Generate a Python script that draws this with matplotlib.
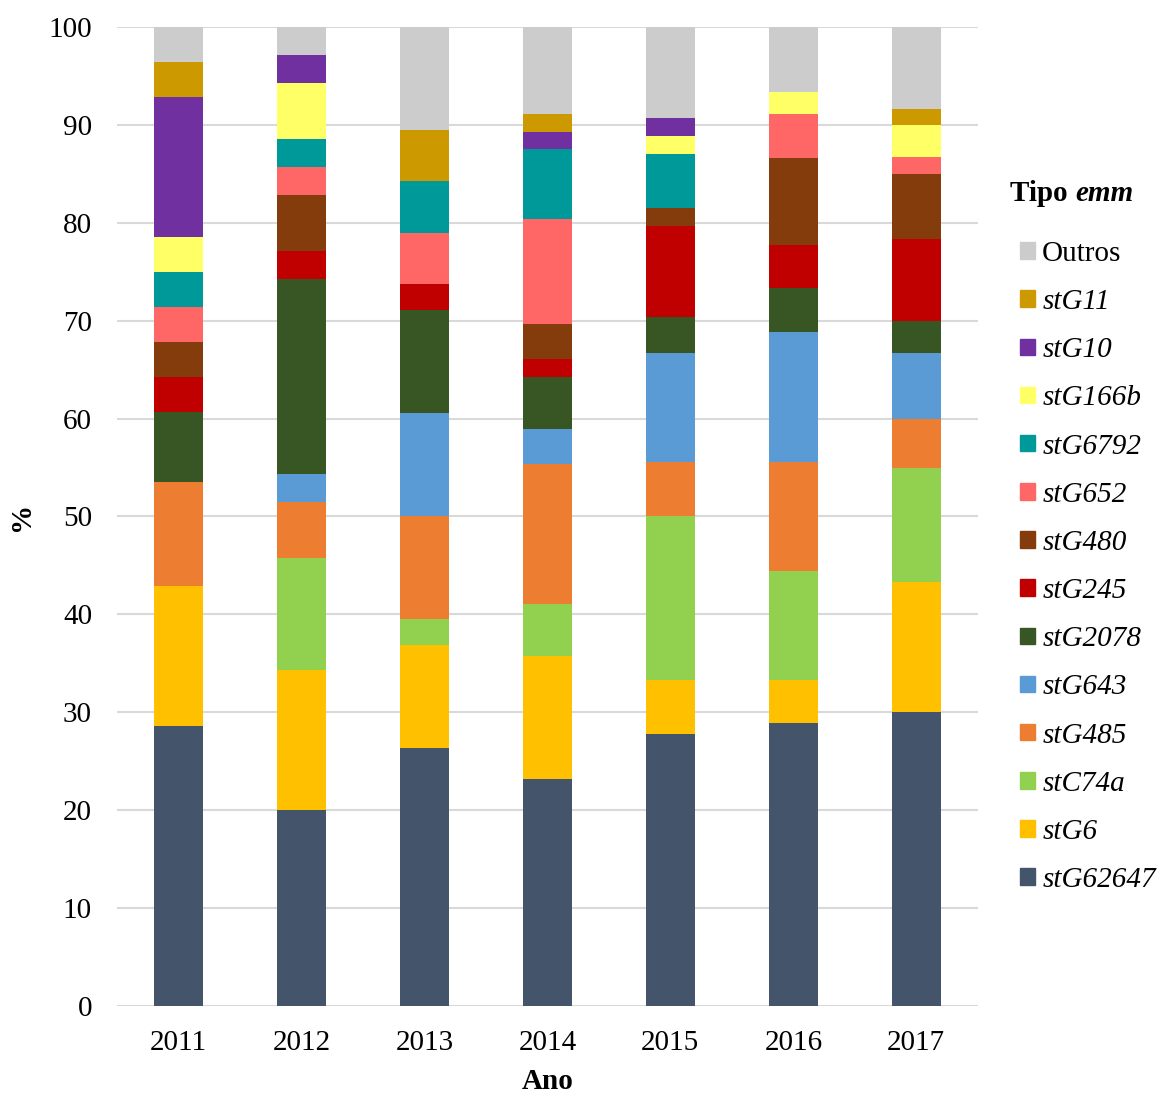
import matplotlib.pyplot as plt
import numpy as np
from matplotlib.patches import Patch

plt.rcParams['font.family'] = ['Liberation Serif', 'DejaVu Serif']

years = ['2011', '2012', '2013', '2014', '2015', '2016', '2017']

# percentage of isolates per emm type and year (bottom to top of the stack)
stG62647 = [28.57, 20.00, 26.32, 23.21, 27.78, 28.89, 30.00]
stG6     = [14.29, 14.29, 10.53, 12.50, 5.56, 4.44, 13.33]
stC74a   = [0.00, 11.43, 2.63, 5.36, 16.67, 11.11, 11.67]
stG485   = [10.71, 5.71, 10.53, 14.29, 5.56, 11.11, 5.00]
stG643   = [0.00, 2.86, 10.53, 3.57, 11.11, 13.33, 6.67]
stG2078  = [7.14, 20.00, 10.53, 5.36, 3.70, 4.44, 3.33]
stG245   = [3.57, 2.86, 2.63, 1.79, 9.26, 4.44, 8.33]
stG480   = [3.57, 5.71, 0.00, 3.57, 1.85, 8.89, 6.67]
stG652   = [3.57, 2.86, 5.26, 10.71, 0.00, 4.44, 1.67]
stG6792  = [3.57, 2.86, 5.26, 7.14, 5.56, 0.00, 0.00]
stG166b  = [3.57, 5.71, 0.00, 0.00, 1.85, 2.22, 3.33]
stG10    = [14.29, 2.86, 0.00, 1.79, 1.85, 0.00, 0.00]
stG11    = [3.57, 0.00, 5.26, 1.79, 0.00, 0.00, 1.67]
outros   = [3.57, 2.86, 10.53, 8.93, 9.26, 6.67, 8.33]

series = [
    ('stG62647', stG62647, '#44546a'),
    ('stG6', stG6, '#ffc000'),
    ('stC74a', stC74a, '#92d050'),
    ('stG485', stG485, '#ed7d31'),
    ('stG643', stG643, '#5b9bd5'),
    ('stG2078', stG2078, '#375623'),
    ('stG245', stG245, '#c00000'),
    ('stG480', stG480, '#843c0c'),
    ('stG652', stG652, '#ff6666'),
    ('stG6792', stG6792, '#009999'),
    ('stG166b', stG166b, '#ffff66'),
    ('stG10', stG10, '#7030a0'),
    ('stG11', stG11, '#cc9900'),
    ('Outros', outros, '#cccccc'),
]

FS = 21

fig = plt.figure(figsize=(11.6, 10.93), dpi=100)
ax = fig.add_axes([0.1009, 0.0796, 0.742, 0.8957])

x = np.arange(len(years))
bottom = np.zeros(len(years))
for name, vals, color in series:
    ax.bar(x, vals, 0.4, bottom=bottom, color=color, label=name, zorder=3)
    bottom += np.array(vals)

ax.set_xlim(-0.5, len(years) - 0.5)
ax.set_ylim(0, 100)
ax.set_yticks(range(0, 101, 10))
ax.set_xticks(x)
ax.set_xticklabels(years)
ax.tick_params(labelsize=FS, length=0)
ax.tick_params(axis='x', pad=17)
ax.tick_params(axis='y', pad=18)
ax.grid(axis='y', color='#d9d9d9', linewidth=1.5, zorder=0)
for s in ax.spines.values():
    s.set_visible(False)

ax.set_ylabel('%', fontsize=FS, fontweight='bold', labelpad=10)
ax.set_xlabel('Ano', fontsize=FS, fontweight='bold', labelpad=9)

handles = [Patch(color=c, label=n) for n, v, c in series][::-1]
leg = fig.legend(handles=handles, loc='upper left', bbox_to_anchor=(0.867, 0.793),
                 frameon=False, fontsize=FS, handlelength=0.5, handleheight=0.5,
                 handletextpad=0.25, labelspacing=0.76, borderpad=0)
for t in leg.get_texts():
    if t.get_text() != 'Outros':
        t.set_fontstyle('italic')

# legend heading: "Tipo" upright bold, "emm" bold italic
t1 = fig.text(0.871, 0.823, 'Tipo ', fontsize=FS, fontweight='bold', ha='left', va='center')
fig.canvas.draw()
bb = t1.get_window_extent().transformed(fig.transFigure.inverted())
fig.text(bb.x1, 0.823, 'emm', fontsize=FS, fontweight='bold', fontstyle='italic',
         ha='left', va='center')

fig.savefig('out.png', dpi=100)
